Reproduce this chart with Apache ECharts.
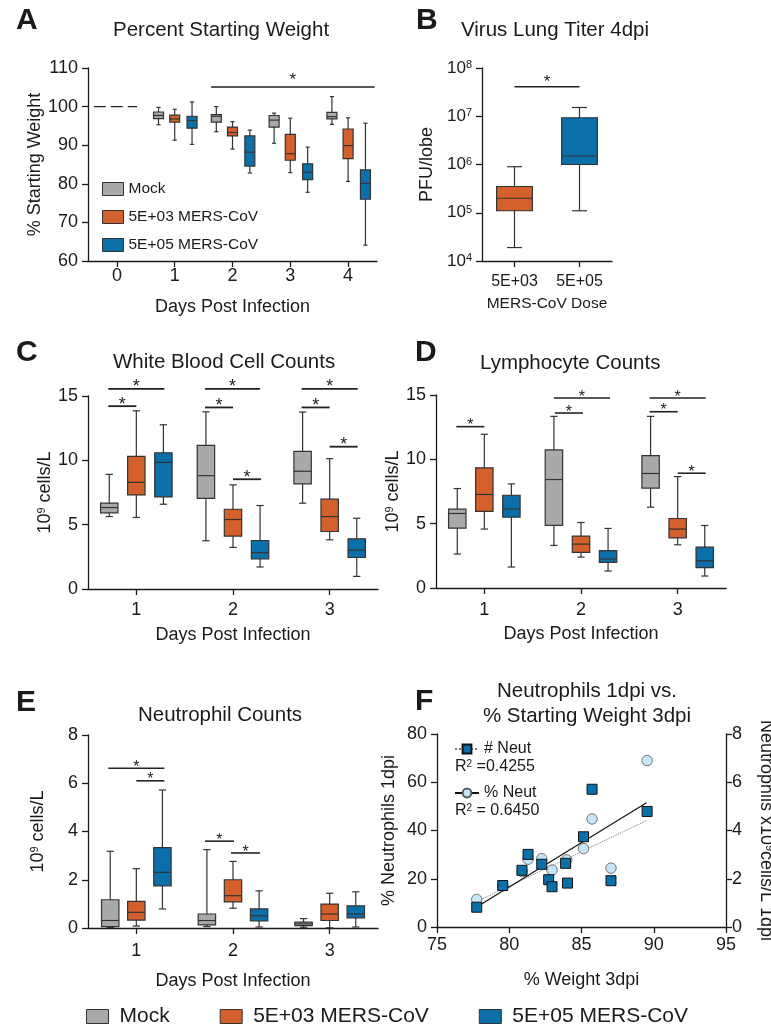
<!DOCTYPE html>
<html>
<head>
<meta charset="utf-8">
<title>MERS-CoV infection panels</title>
<script src="https://cdn.jsdelivr.net/npm/echarts@6/dist/echarts.min.js"></script>
<style>
  html, body { margin: 0; padding: 0; background: #fff; }
  #chart { width: 771px; height: 1027px; }
</style>
</head>
<body>
<div id="chart"></div>
<script>
const FONT = '"Liberation Sans", Arial, Helvetica, sans-serif'
const INK = '#1a1a1a'

const groupNames = ['Mock', '5E+03 MERS-CoV', '5E+05 MERS-CoV']
const groupColors = ['#a9a9a9', '#d4602b', '#0b70aa']

// box rows: [category index, min, Q1, median, Q3, max]

// A - percent starting weight
const weightDays = ['0', '1', '2', '3', '4']
const weightMock = [[1, 95.3, 96.9, 97.7, 98.6, 99.8], [2, 93.5, 96.0, 97.5, 97.9, 100.0], [3, 90.5, 94.7, 96.5, 97.7, 98.3], [4, 95.4, 96.8, 97.4, 98.5, 102.6]]
const weightLow = [[1, 91.3, 96.0, 96.8, 97.8, 99.3], [2, 89.0, 92.4, 93.3, 94.7, 96.1], [3, 82.9, 86.1, 87.8, 92.8, 97.0], [4, 80.6, 86.5, 89.9, 94.2, 97.1]]
const weightHigh = [[1, 90.2, 94.4, 96.4, 97.5, 101.2], [2, 82.8, 84.6, 88.2, 92.4, 93.9], [3, 77.8, 81.1, 83.0, 85.2, 89.5], [4, 64.1, 76.0, 80.1, 83.6, 95.7]]
const weightDay0 = [[0, -0.4, 0.35, 100]]
// significance bars: [category index, start offset, end offset, y]
const weightSig = [[2, -0.37, 2.46, 105.1]]

// B - lung titer 4dpi
const titerDoses = ['5E+03', '5E+05']
const titerLow = [[0, 1.9e4, 1.1e5, 2.0e5, 3.5e5, 9.0e5]]
const titerHigh = [[1, 1.1e5, 1.0e6, 1.5e6, 9.3e6, 1.52e7]]
const titerSig = [[0, 0, 1, 4.1e7]]

// C - white blood cells
const countDays = ['1', '2', '3']
const wbcMock = [[0, 5.63, 5.92, 6.33, 6.67, 8.91], [1, 3.75, 7.05, 8.81, 11.16, 13.77], [2, 6.67, 8.17, 9.15, 10.70, 13.75]]
const wbcLow = [[0, 5.56, 7.31, 8.29, 10.31, 13.85], [1, 3.23, 4.11, 5.40, 6.20, 8.09], [2, 3.82, 4.47, 5.63, 6.98, 10.13]]
const wbcHigh = [[0, 6.59, 7.16, 9.84, 10.59, 12.76], [1, 1.71, 2.33, 2.82, 3.77, 6.49], [2, 0.98, 2.45, 3.02, 3.90, 5.50]]
const wbcSig = [
  [0, -0.29, 0.29, 15.56], [0, -0.29, 0.0, 14.21],
  [1, -0.29, 0.28, 15.56], [1, -0.29, 0.0, 14.11], [1, 0.0, 0.29, 8.53],
  [2, -0.29, 0.29, 15.56], [2, -0.29, 0.0, 14.11], [2, 0.0, 0.29, 11.06]
]

// D - lymphocytes
const lymMock = [[0, 2.64, 4.65, 5.79, 6.13, 7.73], [1, 3.31, 4.86, 8.43, 10.73, 13.34], [2, 6.28, 7.76, 8.90, 10.29, 13.34]]
const lymLow = [[0, 4.58, 5.95, 7.27, 9.34, 11.95], [1, 2.40, 2.77, 3.41, 4.03, 5.09], [2, 3.36, 3.90, 4.58, 5.40, 8.66]]
const lymHigh = [[0, 1.63, 5.51, 6.15, 7.21, 8.09], [1, 1.32, 1.99, 2.25, 2.90, 4.63], [2, 0.93, 1.58, 2.12, 3.18, 4.86]]
const lymSig = [
  [0, -0.29, 0.0, 12.54],
  [1, -0.28, 0.30, 14.77], [1, -0.27, 0.02, 13.6],
  [2, -0.29, 0.29, 14.77], [2, -0.29, 0.0, 13.7], [2, 0.0, 0.29, 8.92]
]

// E - neutrophils
const neuMock = [[0, 0.02, 0.06, 0.31, 1.17, 3.18], [1, 0.06, 0.13, 0.31, 0.58, 3.25], [2, 0.03, 0.10, 0.17, 0.24, 0.39]]
const neuLow = [[0, 0.08, 0.33, 0.65, 1.10, 2.46], [1, 0.82, 1.08, 1.34, 2.00, 2.76], [2, 0.01, 0.31, 0.58, 0.99, 1.44]]
const neuHigh = [[0, 0.79, 1.75, 2.31, 3.33, 5.72], [1, 0.04, 0.29, 0.51, 0.79, 1.54], [2, 0.04, 0.42, 0.58, 0.92, 1.50]]
const neuSig = [[0, -0.29, 0.29, 6.62], [0, 0.0, 0.29, 6.1], [1, -0.29, 0.01, 3.6], [1, -0.02, 0.28, 3.11]]

// F - neutrophils 1dpi vs weight 3dpi
const pctNeut = [[77.75, 11.4], [79.55, 17.0], [80.9, 23.0], [81.3, 28.1], [82.25, 28.3], [82.96, 23.6], [83.98, 27.8], [85.14, 32.5], [85.73, 44.8], [87.04, 24.4], [89.54, 69.0]]
const countNeut = [[77.75, 0.82], [79.55, 1.72], [80.88, 2.35], [81.3, 3.01], [82.25, 2.6], [82.73, 1.96], [82.96, 1.67], [83.9, 2.64], [84.03, 1.82], [85.14, 3.74], [85.73, 5.71], [87.04, 1.92], [89.54, 4.79]]
const pctFit = [[77.8, 8.5], [89.5, 51.5]]
const countFit = [[77.8, 1.07], [89.5, 4.41]]

const chart = echarts.init(document.getElementById('chart'))

// box + whisker drawn through the axes of the series
function boxItem(offset, widthFrac, fill) {
  return function (params, api) {
    const idx = api.value(0)
    const top = api.value(5)
    const band = api.coord([1, top])[0] - api.coord([0, top])[0]
    const cx = api.coord([idx, top])[0] + offset * band
    const py = (i) => api.coord([idx, api.value(i)])[1]
    const yMin = py(1), yQ1 = py(2), yMed = py(3), yQ3 = py(4), yMax = py(5)
    const w = band * widthFrac
    const cap = w * 0.42
    const st = { stroke: '#333', lineWidth: 1.2 }
    return {
      type: 'group',
      children: [
        { type: 'line', shape: { x1: cx, y1: yMax, x2: cx, y2: yMin }, style: st },
        { type: 'line', shape: { x1: cx - cap / 2, y1: yMax, x2: cx + cap / 2, y2: yMax }, style: st },
        { type: 'line', shape: { x1: cx - cap / 2, y1: yMin, x2: cx + cap / 2, y2: yMin }, style: st },
        { type: 'rect', shape: { x: cx - w / 2, y: yQ3, width: w, height: yQ1 - yQ3 }, style: { fill: fill, stroke: '#333', lineWidth: 1.2 } },
        { type: 'line', shape: { x1: cx - w / 2, y1: yMed, x2: cx + w / 2, y2: yMed }, style: st }
      ]
    }
  }
}

// horizontal comparison bar with an asterisk
function sigItem(opts) {
  return function (params, api) {
    const idx = api.value(0)
    const yv = api.value(3)
    const band = api.coord([1, yv])[0] - api.coord([0, yv])[0]
    const base = api.coord([idx, yv])
    const x1 = base[0] + api.value(1) * band
    const x2 = base[0] + api.value(2) * band
    const children = [{
      type: 'line',
      shape: { x1: x1, y1: base[1], x2: x2, y2: base[1] },
      style: { stroke: '#222', lineWidth: opts.lw || 1.5, lineDash: opts.dash || null }
    }]
    if (opts.star) {
      const fs = opts.fs || 17
      children.push({
        type: 'text',
        x: (x1 + x2) / 2,
        y: base[1] - opts.gap + 0.23 * fs,
        style: { text: '*', fill: '#222', font: fs + 'px ' + FONT, align: 'center', verticalAlign: 'middle', textAlign: 'center', textVerticalAlign: 'middle' }
      })
    }
    return { type: 'group', children: children }
  }
}

const series = []
function addBoxes(xi, yi, sets, groups, offsets, widthFrac) {
  sets.forEach((data, k) => {
    const g = groups[k]
    series.push({
      type: 'custom',
      name: groupNames[g],
      xAxisIndex: xi,
      yAxisIndex: yi,
      itemStyle: { color: groupColors[g] },
      renderItem: boxItem(offsets[k], widthFrac, groupColors[g]),
      encode: { x: 0, y: [1, 2, 3, 4, 5] },
      clip: false,
      z: 3,
      data: data
    })
  })
}
function addSig(xi, yi, data, opts) {
  series.push({
    type: 'custom',
    xAxisIndex: xi,
    yAxisIndex: yi,
    renderItem: sigItem(opts),
    encode: { x: 0, y: 3 },
    clip: false,
    silent: true,
    z: 4,
    data: data
  })
}

addBoxes(0, 0, [weightMock, weightLow, weightHigh], [0, 1, 2], [-0.28, 0, 0.3], 0.173)
addSig(0, 0, weightDay0, { dash: [12, 5], lw: 1.3 })
addSig(0, 0, weightSig, { star: true, gap: 10.5, fs: 17 })

addBoxes(1, 1, [titerLow, titerHigh], [1, 2], [0, 0], 0.55)
addSig(1, 1, titerSig, { star: true, gap: 8.5, fs: 17 })

addBoxes(2, 2, [wbcMock, wbcLow, wbcHigh], [0, 1, 2], [-0.28, 0, 0.28], 0.18)
addSig(2, 2, wbcSig, { star: true, gap: 5.5, fs: 18, lw: 1.8 })

addBoxes(3, 3, [lymMock, lymLow, lymHigh], [0, 1, 2], [-0.28, 0, 0.28], 0.18)
addSig(3, 3, lymSig, { star: true, gap: 4.5, fs: 16, lw: 1.6 })

addBoxes(4, 4, [neuMock, neuLow, neuHigh], [0, 1, 2], [-0.27, 0, 0.27], 0.18)
addSig(4, 4, neuSig, { star: true, gap: 4.5, fs: 16, lw: 1.6 })

// F: fit lines first so the legend takes their line + symbol icon
series.push({
  type: 'line', name: '# Neut', xAxisIndex: 5, yAxisIndex: 6, data: countFit,
  showSymbol: false, symbol: 'rect', symbolSize: 10, silent: true, z: 1,
  itemStyle: { color: '#0b70aa', borderColor: '#111', borderWidth: 1 },
  lineStyle: { color: '#777', width: 1, type: 'dotted' }
})
series.push({
  type: 'line', name: '% Neut', xAxisIndex: 5, yAxisIndex: 5, data: pctFit,
  showSymbol: false, symbol: 'circle', symbolSize: 10, silent: true, z: 1,
  itemStyle: { color: '#c6e6f7', borderColor: '#555', borderWidth: 0.8 },
  lineStyle: { color: '#111', width: 1.2 }
})
series.push({
  type: 'scatter', name: '% Neut', xAxisIndex: 5, yAxisIndex: 5, data: pctNeut,
  symbol: 'circle', symbolSize: 10.5, z: 2,
  itemStyle: { color: '#c6e6f7', borderColor: '#555', borderWidth: 0.8, opacity: 1 }
})
series.push({
  type: 'scatter', name: '# Neut', xAxisIndex: 5, yAxisIndex: 6, data: countNeut,
  symbol: 'rect', symbolSize: 10, z: 3,
  itemStyle: { color: '#0b70aa', borderColor: '#111', borderWidth: 1, opacity: 1 }
})

const lineSt = { color: INK, width: 1.3 }
const supRich = { sup: { fontSize: 11, verticalAlign: 'top', fontFamily: FONT, color: INK } }

function catAxis(gridIndex, data, margin, name, nameGap, fs) {
  return {
    type: 'category', gridIndex: gridIndex, data: data,
    axisLine: { show: true, lineStyle: lineSt },
    axisTick: { show: true, alignWithLabel: true, length: 6, lineStyle: lineSt },
    axisLabel: { color: INK, fontSize: fs || 18, fontFamily: FONT, margin: margin },
    splitLine: { show: false },
    name: name, nameLocation: 'middle', nameGap: nameGap,
    nameTextStyle: { color: INK, fontSize: fs ? fs - 0.5 : 18, fontFamily: FONT }
  }
}
function valAxis(gridIndex, min, max, interval, name, nameGap, extra) {
  return Object.assign({
    type: 'value', gridIndex: gridIndex, min: min, max: max, interval: interval,
    axisLine: { show: true, lineStyle: lineSt },
    axisTick: { show: true, length: 6, lineStyle: lineSt },
    axisLabel: { color: INK, fontSize: 18, fontFamily: FONT, margin: 10 },
    splitLine: { show: false },
    name: name, nameLocation: 'middle', nameGap: nameGap,
    nameTextStyle: { color: INK, fontSize: 18, fontFamily: FONT, rich: supRich }
  }, extra || {})
}

const grid = [
  { left: 88, top: 68, width: 289, height: 193 },
  { left: 482, top: 68, width: 130, height: 193 },
  { left: 88, top: 396, width: 290, height: 193 },
  { left: 436, top: 395, width: 290, height: 193 },
  { left: 88, top: 735, width: 290, height: 193 },
  { left: 437, top: 734, width: 289, height: 193 }
].map((g) => Object.assign({ containLabel: false, outerBoundsMode: 'none' }, g))

const xAxis = [
  catAxis(0, weightDays, 6.5, 'Days Post Infection', 37),
  catAxis(1, titerDoses, 13, 'MERS-CoV Dose', 35, 16),
  catAxis(2, countDays, 12.5, 'Days Post Infection', 37),
  catAxis(3, countDays, 13, 'Days Post Infection', 37),
  catAxis(4, countDays, 14, 'Days Post Infection', 44),
  valAxis(5, 75, 95, 5, '% Weight 3dpi', 44, { axisLabel: { color: INK, fontSize: 18, fontFamily: FONT, margin: 9.5 } })
]

const yAxis = [
  valAxis(0, 60, 110, 10, '% Starting Weight', 44),
  {
    type: 'log', gridIndex: 1, min: 1e4, max: 1e8, logBase: 10,
    axisLine: { show: true, lineStyle: lineSt },
    axisTick: { show: true, length: 6, lineStyle: lineSt },
    minorTick: { show: false },
    splitLine: { show: false },
    axisLabel: {
      color: INK, fontSize: 17, fontFamily: FONT, margin: 10,
      formatter: (v) => '10{sup|' + Math.round(Math.log10(v)) + '}',
      rich: supRich
    },
    name: 'PFU/lobe', nameLocation: 'middle', nameGap: 46,
    nameTextStyle: { color: INK, fontSize: 18, fontFamily: FONT }
  },
  valAxis(2, 0, 15, 5, '10{sup|9} cells/L', 30),
  valAxis(3, 0, 15, 5, '10{sup|9} cells/L', 33),
  valAxis(4, 0, 8, 2, '10{sup|9} cells/L', 41),
  valAxis(5, 0, 80, 20, '% Neutrophils 1dpi', 39),
  valAxis(5, 0, 8, 2, 'Neutrophils x10{sup|9}cells/L 1dpi', 31, {
    position: 'right', nameRotate: -90,
    axisLabel: { color: INK, fontSize: 18, fontFamily: FONT, margin: 6 }
  })
]

const titleStyle = { color: INK, fontSize: 20.5, fontWeight: 'normal', fontFamily: FONT }
const title = [
  { text: 'Percent Starting Weight', left: 113, top: 20, padding: 0, textStyle: titleStyle },
  { text: 'Virus Lung Titer 4dpi', left: 461, top: 20, padding: 0, textStyle: titleStyle },
  { text: 'White Blood Cell Counts', left: 113, top: 352, padding: 0, textStyle: titleStyle },
  { text: 'Lymphocyte Counts', left: 480, top: 353, padding: 0, textStyle: titleStyle },
  { text: 'Neutrophil Counts', left: 138, top: 705, padding: 0, textStyle: titleStyle },
  { text: 'Neutrophils 1dpi vs.\n% Starting Weight 3dpi', left: 587, top: 679, padding: 0, textAlign: 'center', textStyle: Object.assign({ lineHeight: 25 }, titleStyle) }
]

const letterFont = 'bold 30px ' + FONT
const letters = [['A', 16, 21], ['B', 416, 21], ['C', 16, 352.5], ['D', 415, 352.5], ['E', 16, 702.5], ['F', 415, 702]]
const graphic = letters.map((l) => ({
  type: 'text', x: l[1], y: l[2],
  style: { text: l[0], fill: INK, font: letterFont, align: 'left', verticalAlign: 'middle', textAlign: 'left', textVerticalAlign: 'middle' }
}))
const r2Rich = { s: { fontSize: 10, verticalAlign: 'top', fontFamily: FONT, fill: INK } }
graphic.push(
  { type: 'text', x: 455, y: 767, style: { text: 'R{s|2} =0.4255', fill: INK, font: '16px ' + FONT, rich: r2Rich, verticalAlign: 'middle', textVerticalAlign: 'middle' } },
  { type: 'text', x: 455, y: 811, style: { text: 'R{s|2} = 0.6450', fill: INK, font: '16px ' + FONT, rich: r2Rich, verticalAlign: 'middle', textVerticalAlign: 'middle' } }
)

const legend = [
  {
    data: groupNames, orient: 'vertical', left: 102, top: 181, padding: 0,
    icon: 'rect', itemWidth: 21, itemHeight: 13, itemGap: 12,
    itemStyle: { borderColor: '#333', borderWidth: 1 },
    textStyle: { color: INK, fontSize: 15.5, fontFamily: FONT, lineHeight: 16 }
  },
  {
    data: groupNames, orient: 'horizontal', left: 86, top: 1006, padding: 0,
    icon: 'rect', itemWidth: 22, itemHeight: 14, itemGap: 50,
    itemStyle: { borderColor: '#333', borderWidth: 1 },
    textStyle: { color: INK, fontSize: 21, fontFamily: FONT, padding: [0, 0, 0, 6] }
  },
  {
    data: ['# Neut', '% Neut'], orient: 'vertical', left: 454, top: 740, padding: 0,
    itemWidth: 24, itemHeight: 11, itemGap: 26,
    textStyle: { color: INK, fontSize: 16, fontFamily: FONT, lineHeight: 18 }
  }
]

chart.setOption({
  animation: false,
  backgroundColor: '#fff',
  textStyle: { fontFamily: FONT },
  title: title,
  legend: legend,
  grid: grid,
  xAxis: xAxis,
  yAxis: yAxis,
  graphic: graphic,
  series: series
})

window.addEventListener('resize', () => chart.resize())
</script>
</body>
</html>
